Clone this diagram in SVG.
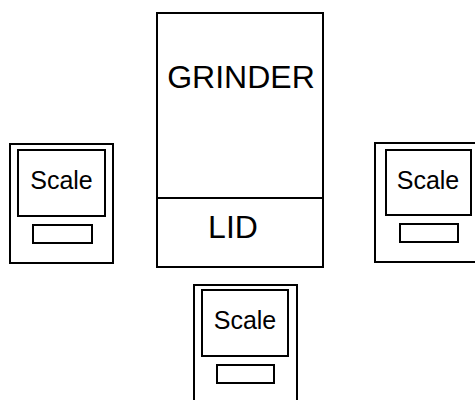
<svg xmlns="http://www.w3.org/2000/svg" width="475" height="400" viewBox="0 0 475 400">
<style>
.b{fill:#fff;stroke:#000;stroke-width:2}
line{stroke:#000;stroke-width:2}
text{font-family:"Liberation Sans",Arial,sans-serif;fill:#000;text-anchor:middle}
.big{font-size:32px}
.sm{font-size:25px}
</style>
<rect width="475" height="400" fill="#fff"/>
<g id="grinder">
<rect class="b" x="157" y="13" width="166" height="254"/>
<line x1="157" y1="198" x2="323" y2="198"/>
<text class="big" x="241" y="88">GRINDER</text>
<text class="big" x="233" y="238">LID</text>
</g>
<g id="scale-left">
<rect class="b" x="10" y="144" width="103" height="119"/>
<rect class="b" x="18" y="150" width="87" height="66"/>
<rect class="b" x="33" y="225" width="59" height="18"/>
<text class="sm" x="61.5" y="189">Scale</text>
</g>
<g id="scale-right">
<rect class="b" x="375" y="143" width="107" height="119"/>
<rect class="b" x="386" y="150" width="85" height="65"/>
<rect class="b" x="400" y="224" width="58" height="18"/>
<text class="sm" x="428" y="189">Scale</text>
</g>
<g id="scale-bottom">
<rect class="b" x="194" y="285" width="103" height="125"/>
<rect class="b" x="202" y="290" width="86" height="66"/>
<rect class="b" x="217" y="365" width="57" height="18"/>
<text class="sm" x="245" y="329">Scale</text>
</g>
<g id="connectors"></g>
</svg>
